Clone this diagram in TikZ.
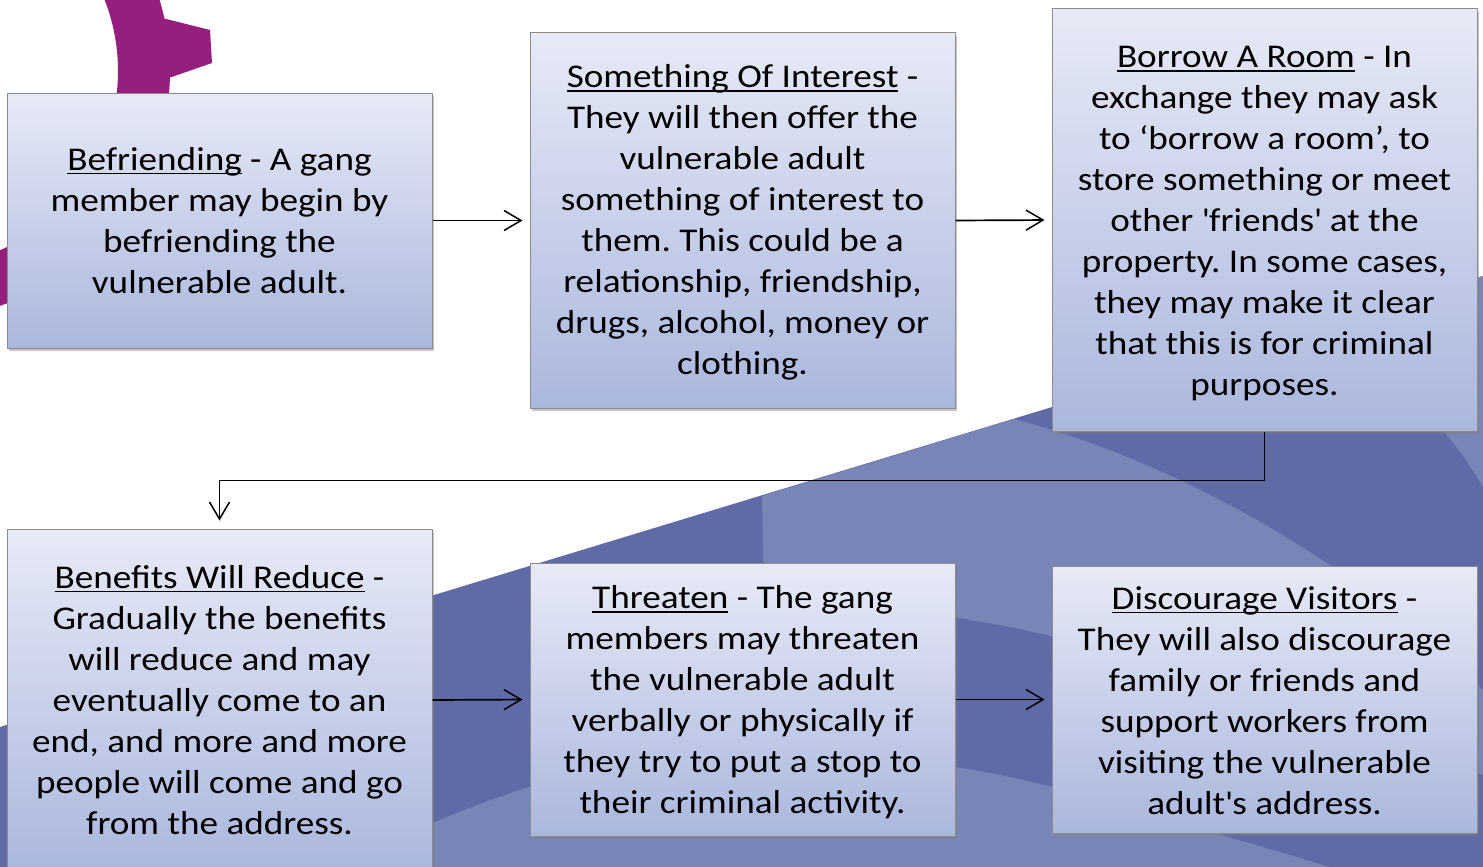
\documentclass[tikz,border=0pt]{standalone}
\usepackage{fontspec}
\setmainfont{Carlito}[FakeStretch=1.12]
\usetikzlibrary{arrows.meta,shadows}
\definecolor{boxtop}{RGB}{231,234,246}
\definecolor{boxbot}{RGB}{170,183,221}
\definecolor{boxline}{RGB}{140,140,140}
\definecolor{bgdark}{RGB}{96,106,167}
\definecolor{bglight}{RGB}{121,132,183}
\definecolor{ringpurple}{RGB}{149,31,125}
\newcommand\myul[1]{\setbox0=\hbox{#1}\rlap{\rule[-4pt]{\wd0}{1.6pt}}\box0\relax}
\frenchspacing
\begin{document}
\begin{tikzpicture}[x=1pt,y=-1pt,
  stepbox/.style={draw=boxline, line width=1pt, top color=boxtop, bottom color=boxbot,
    minimum width=425pt, inner sep=0pt,
    drop shadow={opacity=0.45, shadow xshift=2pt, shadow yshift=-3pt}},
  boxtext/.style={align=center, font=\fontsize{33.2}{41}\selectfont, inner sep=0pt},
  flow/.style={line width=1.7pt, -{Straight Barb[length=17pt,width=20pt,line width=1.5pt]}, shorten >=7pt}]
\useasboundingbox (0,0) rectangle (1483,867);
\clip (0,0) rectangle (1483,867);
\fill[white] (0,0) rectangle (1483,867);
% background bands
\fill[bgdark] (0,727) -- (1483,276) -- (1483,867) -- (0,867) -- cycle;
\fill[bglight] (762,496) -- (1014,419) .. controls (1150,455) and (1330,540) .. (1483,690)
  -- (1483,775) .. controls (1300,710) and (1150,655) .. (1000,625)
  .. controls (850,600) and (765,580) .. (763,560) -- cycle;
\fill[bglight] (300,900) .. controls (400,820) and (600,750) .. (740,750)
  .. controls (880,750) and (1000,770) .. (1100,800)
  .. controls (1250,845) and (1400,880) .. (1483,930) -- (1483,960) -- (300,960) -- cycle;
\fill[bglight] (1330,323) .. controls (1400,380) and (1450,430) .. (1483,487) -- (1483,276) -- cycle;
% purple ring
\fill[ringpurple, even odd rule] (-77,71) circle[radius=247] (-77,71) circle[radius=195];
\fill[ringpurple] (158,17) -- (210,30) -- (212,63) -- (163,80) -- cycle;
% boxes
\node[stepbox, minimum height=255pt] (b1) at (219.5,220.5) {};
\node[boxtext] (t1) at ([yshift=0pt]b1.center)
  {\myul{Befriending} - A gang\\member may begin by\\befriending the\\vulnerable adult.};
\node[stepbox, minimum height=375pt] (b2) at (742.5,220.5) {};
\node[boxtext] (t2) at ([yshift=-2pt]b2.center)
  {\myul{Something Of Interest} -\\They will then offer the\\vulnerable adult\\something of interest to\\them. This could be a\\relationship, friendship,\\drugs, alcohol, money or\\clothing.};
\node[stepbox, minimum height=422pt] (b3) at (1264.5,220) {};
\node[boxtext] (t3) at ([yshift=-4pt]b3.center)
  {\myul{Borrow A Room} - In\\exchange they may ask\\to ‘borrow a room’, to\\store something or meet\\other \textquotesingle friends\textquotesingle{} at the\\property. In some cases,\\they may make it clear\\that this is for criminal\\purposes.};
\node[stepbox, minimum height=342pt] (b4) at (219.5,700) {};
\node[boxtext] (t4) at ([yshift=0pt]b4.center)
  {\myul{Benefits Will Reduce} -\\Gradually the benefits\\will reduce and may\\eventually come to an\\end, and more and more\\people will come and go\\from the address.};
\node[stepbox, minimum height=273pt] (b5) at (742.5,699.5) {};
\node[boxtext] (t5) at ([yshift=-3pt]b5.center)
  {\myul{Threaten} - The gang\\members may threaten\\the vulnerable adult\\verbally or physically if\\they try to put a stop to\\their criminal activity.};
\node[stepbox, minimum height=267pt] (b6) at (1264.5,699.5) {};
\node[boxtext] (t6) at ([yshift=-1pt]b6.center)
  {\myul{Discourage Visitors} -\\They will also discourage\\family or friends and\\support workers from\\visiting the vulnerable\\adult\textquotesingle s address.};
% connectors
\draw[flow] (b1.east) -- (b2.west);
\draw[flow] (b2.east) -- (b3.west);
\draw[flow, shorten >=8pt] (b3.south) -- ++(0,49) -| (b4.north);
\draw[flow] (b4.east) -- (b5.west);
\draw[flow] (b5.east) -- (b6.west);
\end{tikzpicture}
\end{document}
